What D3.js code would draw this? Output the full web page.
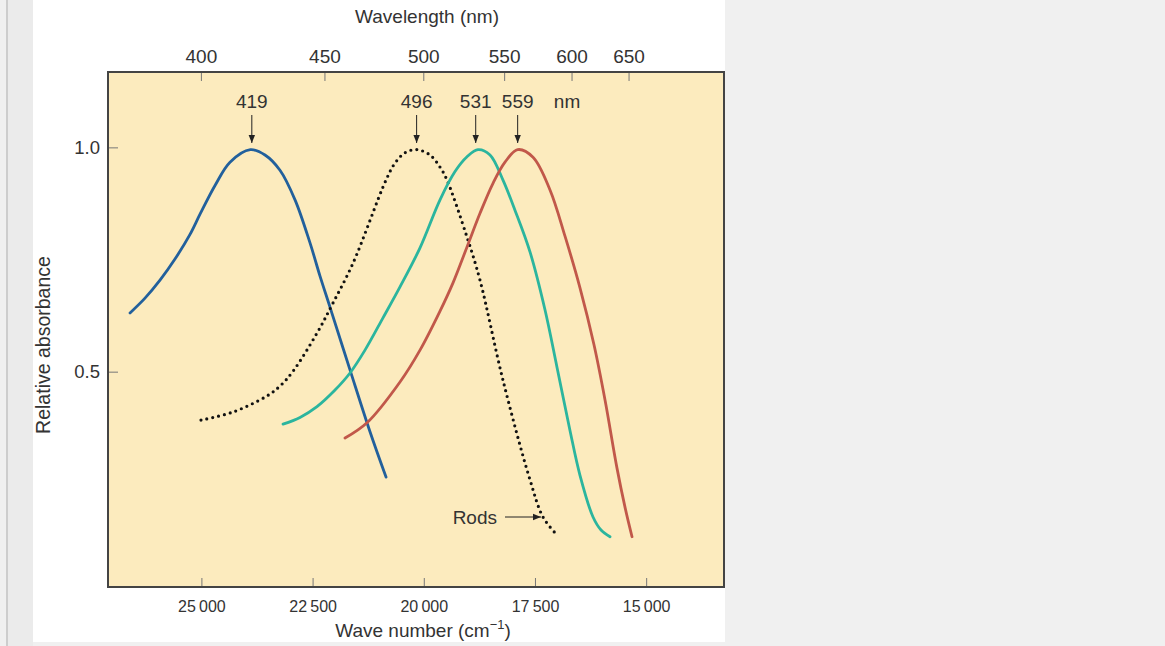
<!DOCTYPE html>
<html>
<head>
<meta charset="utf-8">
<script src="https://cdn.jsdelivr.net/npm/d3@7"></script>
<style>
  html, body { margin: 0; padding: 0; background: #f0f0f0; }
  svg { display: block; }
  text { font-family: "Liberation Sans", Arial, sans-serif; fill: #333; }
</style>
</head>
<body>
<svg id="chart" width="1165" height="646"></svg>
<script>
// ---- data (wave number cm^-1, relative absorbance) ----
const bottomTicks = [25000, 22500, 20000, 17500, 15000];
const topTicksNm = [400, 450, 500, 550, 600, 650];
const yTicks = [0.5, 1.0];
const peaksNm = [419, 496, 531, 559];

const blueWn  = [26605, 26268, 25931, 25594, 25256, 25031, 24694, 24357, 23900, 23570, 23233, 22895, 22558, 22333, 22109, 21659, 21209, 20849];
const blueAbs = [0.631, 0.664, 0.704, 0.751, 0.806, 0.851, 0.915, 0.967, 0.995, 0.983, 0.949, 0.883, 0.787, 0.713, 0.644, 0.504, 0.366, 0.265];

const rodWn  = [25009, 24290, 23525, 23233, 22940, 22401, 22041, 21591, 20850, 20647, 20422, 20160, 19860, 19635, 19478, 19028, 18736, 18219, 17612, 17319, 17005];
const rodAbs = [0.392, 0.410, 0.446, 0.468, 0.501, 0.586, 0.653, 0.742, 0.927, 0.965, 0.988, 0.995, 0.983, 0.956, 0.927, 0.800, 0.704, 0.481, 0.259, 0.176, 0.136];

const greenWn  = [23165, 22783, 22401, 21996, 21659, 21322, 20917, 20535, 20085, 19635, 19298, 19028, 18780, 18511, 18219, 17950, 17612, 17275, 17005, 16713, 16488, 16195, 16015, 15813];
const greenAbs = [0.383, 0.398, 0.422, 0.459, 0.497, 0.548, 0.620, 0.689, 0.776, 0.883, 0.946, 0.979, 0.995, 0.983, 0.927, 0.860, 0.767, 0.638, 0.510, 0.369, 0.269, 0.176, 0.147, 0.132];

const redWn  = [21771, 21277, 20535, 20085, 19635, 19343, 19028, 18736, 18444, 18174, 17889, 17544, 17162, 16825, 16488, 16173, 15925, 15656, 15476, 15318];
const redAbs = [0.352, 0.386, 0.477, 0.548, 0.635, 0.698, 0.778, 0.853, 0.920, 0.967, 0.995, 0.978, 0.905, 0.802, 0.687, 0.560, 0.437, 0.285, 0.198, 0.132];

const seriesNames = ["blue", "rods", "green", "red"];
const seriesColors = ["#22609c", "#111111", "#2bb59e", "#c1584a"];

// ---- layout ----
const svg = d3.select("#chart");
const L = 108, R = 724, T = 72, B = 587;

// page decoration
svg.append("rect").attr("x", 0).attr("y", 0).attr("width", 1165).attr("height", 646).attr("fill", "#f0f0f0");
svg.append("rect").attr("x", 6).attr("y", 0).attr("width", 2).attr("height", 646).attr("fill", "#cdcdcd");
svg.append("rect").attr("x", 8).attr("y", 0).attr("width", 25).attr("height", 646).attr("fill", "#ebebeb");
svg.append("rect").attr("x", 33).attr("y", 0).attr("width", 692).attr("height", 642).attr("fill", "#ffffff");

const x = d3.scaleLinear().domain([27100, 13250]).range([L, R]);
const y = d3.scaleLinear().domain([0.02, 1.168]).range([B, T]);
const xNm = nm => x(1e7 / nm);

// plot background
svg.append("rect").attr("x", L).attr("y", T).attr("width", R - L).attr("height", B - T)
  .attr("fill", "#fcebbe");

// bottom axis
const fmtWn = d => d3.format(",")(d).replace(",", "\u2009");
const gB = svg.append("g").attr("transform", `translate(0,${B})`)
  .call(d3.axisBottom(x).tickValues(bottomTicks).tickSizeInner(-9).tickSizeOuter(0).tickPadding(14).tickFormat(fmtWn));
gB.select(".domain").remove();
gB.selectAll(".tick line").attr("stroke", "#777");
gB.selectAll(".tick text").attr("font-size", 16).attr("fill", "#333").attr("font-family", "Liberation Sans, Arial, sans-serif");

// left axis
const gL = svg.append("g").attr("transform", `translate(${L},0)`)
  .call(d3.axisLeft(y).tickValues(yTicks).tickSizeInner(-10).tickSizeOuter(0).tickPadding(8).tickFormat(d3.format(".1f")));
gL.select(".domain").remove();
gL.selectAll(".tick line").attr("stroke", "#777");
gL.selectAll(".tick text").attr("font-size", 18.5).attr("fill", "#333").attr("font-family", "Liberation Sans, Arial, sans-serif");

// top axis (wavelength)
const gT = svg.append("g");
gT.selectAll("line.tt").data(topTicksNm).join("line").attr("class", "tt")
  .attr("x1", d => xNm(d)).attr("x2", d => xNm(d)).attr("y1", T).attr("y2", T + 9)
  .attr("stroke", "#777");
gT.selectAll("text.tt").data(topTicksNm).join("text").attr("class", "tt")
  .attr("x", d => xNm(d)).attr("y", 63).attr("text-anchor", "middle").attr("font-size", 19)
  .text(d => d);

// frame
svg.append("rect").attr("x", L).attr("y", T).attr("width", R - L).attr("height", B - T)
  .attr("fill", "none").attr("stroke", "#444").attr("stroke-width", 2);

// curves
const data = [
  { wn: blueWn, abs: blueAbs },
  { wn: rodWn, abs: rodAbs },
  { wn: greenWn, abs: greenAbs },
  { wn: redWn, abs: redAbs }
];
const line = d3.line().x(d => x(d[0])).y(d => y(d[1])).curve(d3.curveCatmullRom.alpha(0.5));
data.forEach((s, i) => {
  const pts = s.wn.map((w, k) => [w, s.abs[k]]);
  const p = svg.append("path").attr("d", line(pts)).attr("fill", "none")
    .attr("stroke", seriesColors[i]).attr("stroke-linecap", "round").attr("stroke-linejoin", "round");
  if (seriesNames[i] === "rods") {
    p.attr("stroke-width", 3.2).attr("stroke-dasharray", "0 6");
  } else {
    p.attr("stroke-width", 2.8);
  }
});

// arrow marker
const defs = svg.append("defs");
defs.append("marker").attr("id", "ah").attr("viewBox", "0 0 10 10").attr("refX", 10).attr("refY", 5)
  .attr("markerWidth", 10).attr("markerHeight", 8).attr("markerUnits", "userSpaceOnUse").attr("orient", "auto")
  .append("path").attr("d", "M0,1 L10,5 L0,9 Z").attr("fill", "#222");

// peak annotations
const gA = svg.append("g");
gA.selectAll("line.pk").data(peaksNm).join("line").attr("class", "pk")
  .attr("x1", d => xNm(d)).attr("x2", d => xNm(d)).attr("y1", 115).attr("y2", 143)
  .attr("stroke", "#222").attr("stroke-width", 1).attr("marker-end", "url(#ah)");
gA.selectAll("text.pk").data(peaksNm).join("text").attr("class", "pk")
  .attr("x", d => xNm(d)).attr("y", 107.5).attr("text-anchor", "middle").attr("font-size", 19)
  .text(d => d);
gA.append("text").attr("x", xNm(596)).attr("y", 107.5).attr("text-anchor", "middle").attr("font-size", 19).text("nm");

// Rods label
gA.append("text").attr("x", 497).attr("y", 524).attr("text-anchor", "end").attr("font-size", 19).text("Rods");
gA.append("line").attr("x1", 505).attr("x2", 541).attr("y1", 517).attr("y2", 517)
  .attr("stroke", "#222").attr("stroke-width", 1).attr("marker-end", "url(#ah)");

// titles
svg.append("text").attr("x", 427).attr("y", 23).attr("text-anchor", "middle").attr("font-size", 19).text("Wavelength (nm)");
const bt = svg.append("text").attr("x", 423).attr("y", 637).attr("text-anchor", "middle").attr("font-size", 19);
bt.append("tspan").text("Wave number (cm");
bt.append("tspan").attr("font-size", 13).attr("dy", -8).text("\u22121");
bt.append("tspan").attr("dy", 8).text(")");
svg.append("text").attr("transform", "translate(50,345) rotate(-90)").attr("text-anchor", "middle")
  .attr("font-size", 19.5).text("Relative absorbance");
</script>
</body>
</html>
